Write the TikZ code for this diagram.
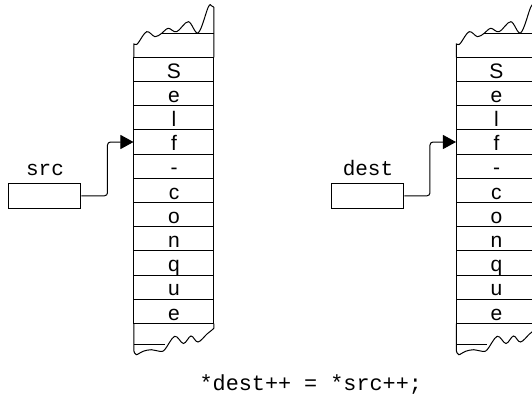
\documentclass[tikz,border=0pt]{standalone}
\usepackage{fontspec}
\setmainfont{Liberation Sans}
\setmonofont{Liberation Mono}
\usetikzlibrary{positioning,arrows.meta}
\tikzset{
  rim/.style={line width=0.5pt},
  cell/.style={draw,line width=0.5pt,minimum width=40pt,minimum height=12.1pt,inner sep=0pt,
    text height=8.8pt,text depth=0.2pt,font=\rmfamily\fontsize{10.5}{12}\selectfont},
  ptrbox/.style={draw,line width=0.5pt,minimum width=36pt,minimum height=12.5pt,inner sep=0pt},
  ptrname/.style={inner sep=0pt,font=\ttfamily\fontsize{10.5}{12}\selectfont},
  ptr/.style={line width=0.5pt,rounded corners=1.5pt,-{Triangle[length=6.5pt,width=7pt]}}
}
\begin{document}
\begin{tikzpicture}[x=0.5pt,y=-0.5pt]
\clip (0,0) rectangle (532,403);

% source string
\draw[rim] (134,57.3) -- plot[smooth,tension=0.6] coordinates {(134,44) (136.3,44.5) (138.5,42.5) (146.7,31.7) (155,36.7) (161.7,33.3) (168.3,28.3) (176.7,31.7) (188.3,21.7) (198.3,32.7) (208.3,7) (211.5,5.8) (214,7.5)} -- (214,57.3);
\draw[rim] (162,33.3) -- (214,33.3);
\node[cell] (sc1) at (174,69.4) {S};
\node[cell] (sc2) at (174,93.6) {e};
\node[cell] (sc3) at (174,117.8) {l};
\node[cell] (sc4) at (174,142.0) {f};
\node[cell] (sc5) at (174,166.2) {-};
\node[cell] (sc6) at (174,190.4) {c};
\node[cell] (sc7) at (174,214.6) {o};
\node[cell] (sc8) at (174,238.8) {n};
\node[cell] (sc9) at (174,263.0) {q};
\node[cell] (sc10) at (174,287.2) {u};
\node[cell] (sc11) at (174,311.4) {e};
\draw[rim] (134,344.7) -- (165,344.7);
\draw[rim] (134,323.5) -- plot[smooth,tension=0.6] coordinates {(134,351.3) (136.3,354.7) (143,351.3) (151.3,349.7) (159.7,351.3) (164.7,349.7) (174.7,336.3) (183.5,343.5) (191,336) (198,342) (207,334) (212,330) (214,328)} -- (214,323.5);

% destination string
\draw[rim] (456.5,57.3) -- plot[smooth,tension=0.6] coordinates {(456.5,44) (458.8,44.5) (461,42.5) (469.2,31.7) (477.5,36.7) (484.2,33.3) (490.8,28.3) (499.2,31.7) (510.8,21.7) (520.8,32.7) (530.8,7) (534,5.8) (536.5,7.5)} -- (536.5,57.3);
\draw[rim] (484.5,33.3) -- (536.5,33.3);
\node[cell] (dc1) at (496.5,69.4) {S};
\node[cell] (dc2) at (496.5,93.6) {e};
\node[cell] (dc3) at (496.5,117.8) {l};
\node[cell] (dc4) at (496.5,142.0) {f};
\node[cell] (dc5) at (496.5,166.2) {-};
\node[cell] (dc6) at (496.5,190.4) {c};
\node[cell] (dc7) at (496.5,214.6) {o};
\node[cell] (dc8) at (496.5,238.8) {n};
\node[cell] (dc9) at (496.5,263.0) {q};
\node[cell] (dc10) at (496.5,287.2) {u};
\node[cell] (dc11) at (496.5,311.4) {e};
\draw[rim] (456.5,344.7) -- (487.5,344.7);
\draw[rim] (456.5,323.5) -- plot[smooth,tension=0.6] coordinates {(456.5,351.3) (458.8,354.7) (465.5,351.3) (473.8,349.7) (482.2,351.3) (487.2,349.7) (497.2,336.3) (506,343.5) (513.5,336) (520.5,342) (529.5,334) (534.5,330) (536.5,328)} -- (536.5,323.5);

% pointers
\node[ptrbox] (srcbox) at (45,195.8) {};
\node[ptrname,above=3.25pt of srcbox] (srcname) {src};
\draw[ptr] (srcbox.east) -- ++(26,0) |- (sc4.west);

\node[ptrbox] (destbox) at (368,195.8) {};
\node[ptrname,above=3.25pt of destbox] (destname) {dest};
\draw[ptr] (destbox.east) -- ++(25.5,0) |- (dc4.west);

\node[anchor=base,inner sep=0pt,font=\ttfamily\fontsize{10.9}{13}\selectfont] (stmt) at (310.8,390.5) {*dest++ = *src++;};
\end{tikzpicture}
\end{document}
